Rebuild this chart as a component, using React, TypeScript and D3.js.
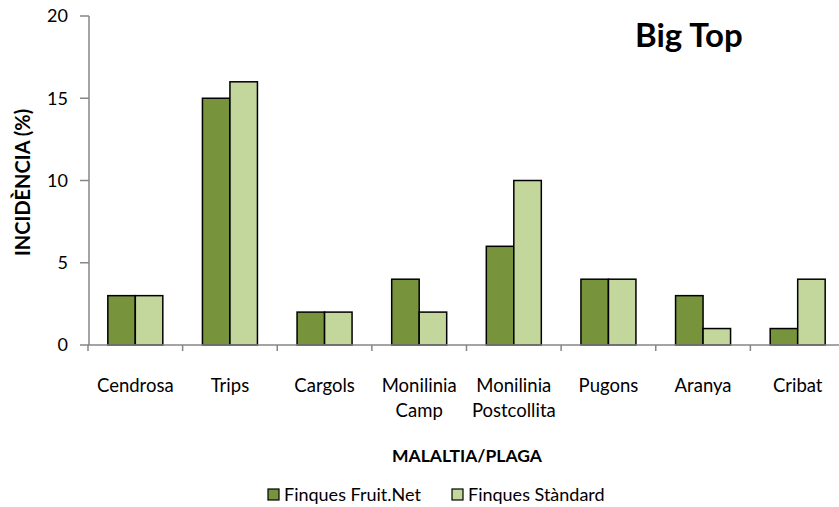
import React from "react";
import * as d3 from "d3";

const categories: string[][] = [
  ["Cendrosa"],
  ["Trips"],
  ["Cargols"],
  ["Monilinia", "Camp"],
  ["Monilinia", "Postcollita"],
  ["Pugons"],
  ["Aranya"],
  ["Cribat"],
];
const fruitNet = [3, 15, 2, 4, 6, 4, 3, 1];
const standard = [3, 16, 2, 2, 10, 4, 1, 4];
const seriesNames = ["Finques Fruit.Net", "Finques Stàndard"];
const seriesColors = ["#77933C", "#C3D69B"];
const yTicks = [0, 5, 10, 15, 20];

const W = 839;
const H = 507;
const FONT = "Lato, 'Open Sans', sans-serif";

export default function App() {
  const x0 = 88;
  const x1 = 845;
  const yTop = 16;
  const yBot = 345;
  const keys = categories.map((c) => c.join(" "));
  const x = d3.scaleBand<string>().domain(keys).range([x0, x1]).padding(0);
  const step = x.step();
  const groupW = 55;
  const sub = d3
    .scaleBand<number>()
    .domain([0, 1])
    .range([(step - groupW) / 2, (step + groupW) / 2])
    .padding(0);
  const y = d3.scaleLinear().domain([0, 20]).range([yBot, yTop]);
  const series = [fruitNet, standard];
  const axisColor = "#868686";

  return (
    <svg
      width={W}
      height={H}
      style={{ position: "absolute", left: 0, top: 0, background: "#fff" }}
      fontFamily={FONT}
    >
      <rect x={0} y={0} width={W} height={H} fill="#fff" />
      {/* bars */}
      {keys.map((k, i) =>
        series.map((s, j) => (
          <rect
            key={k + j}
            x={(x(k) as number) + (sub(j) as number)}
            y={y(s[i])}
            width={sub.bandwidth()}
            height={y(0) - y(s[i])}
            fill={seriesColors[j]}
            stroke="#000"
            strokeWidth={1.5}
          />
        ))
      )}
      {/* y axis */}
      <line x1={x0 + 1} x2={x0 + 1} y1={yTop} y2={yBot} stroke={axisColor} strokeWidth={1.5} />
      {yTicks.map((t) => (
        <g key={t}>
          <line x1={x0 - 8} x2={x0 + 1} y1={y(t)} y2={y(t)} stroke={axisColor} strokeWidth={1.5} />
          <text x={x0 - 20} y={y(t)} dy="0.35em" textAnchor="end" fontSize={18} fill="#000">
            {t}
          </text>
        </g>
      ))}
      {/* x axis */}
      <line x1={x0} x2={W} y1={yBot} y2={yBot} stroke={axisColor} strokeWidth={1.5} />
      {keys.map((k) => (
        <line
          key={"t" + k}
          x1={x(k) as number}
          x2={x(k) as number}
          y1={yBot}
          y2={yBot + 6}
          stroke={axisColor}
          strokeWidth={1.5}
        />
      ))}
      {categories.map((c, i) => (
        <text
          key={"l" + i}
          x={(x(keys[i]) as number) + step / 2}
          y={392}
          textAnchor="middle"
          fontSize={18.5}
          fill="#000"
        >
          {c.map((line, li) => (
            <tspan key={li} x={(x(keys[i]) as number) + step / 2} dy={li === 0 ? 0 : 25}>
              {line}
            </tspan>
          ))}
        </text>
      ))}
      {/* axis titles */}
      <text x={467} y={462} textAnchor="middle" fontSize={17.5} fontWeight="bold" fill="#000">
        MALALTIA/PLAGA
      </text>
      <text
        transform={`translate(30,182.5) rotate(-90)`}
        textAnchor="middle"
        fontSize={20}
        fontWeight="bold"
        fill="#000"
      >
        INCIDÈNCIA (%)
      </text>
      {/* title */}
      <text x={635} y={47} fontSize={33} fontWeight="bold" fill="#000">
        Big Top
      </text>
      {/* legend */}
      {seriesNames.map((n, j) => {
        const lx = j === 0 ? 268 : 452;
        return (
          <g key={n}>
            <rect x={lx} y={489} width={11} height={11} fill={seriesColors[j]} stroke="#000" strokeWidth={1.2} />
            <text x={lx + 16} y={501} fontSize={18} fill="#000">
              {n}
            </text>
          </g>
        );
      })}
    </svg>
  );
}
